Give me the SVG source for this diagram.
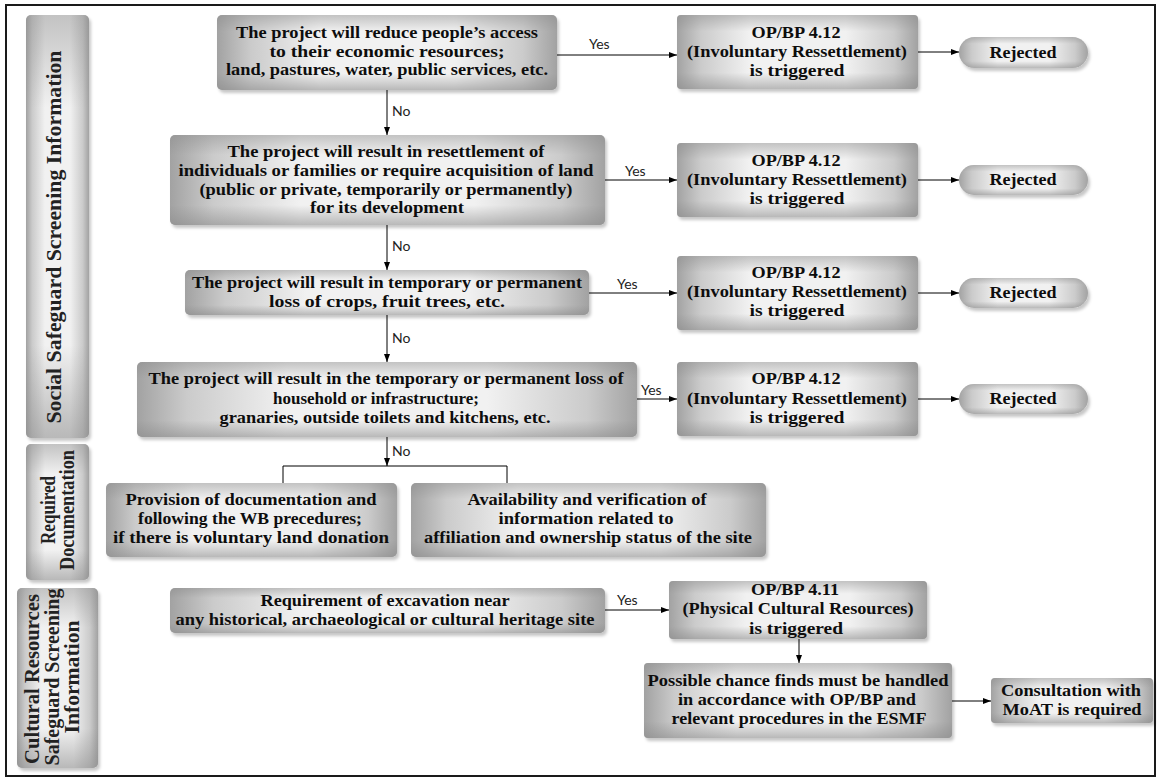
<svg xmlns="http://www.w3.org/2000/svg" width="1157" height="783" viewBox="0 0 1157 783">
<defs>
<linearGradient id="gh" x1="0" x2="1" y1="0" y2="0">
<stop offset="0" stop-color="#a2a2a2"/><stop offset="0.1" stop-color="#cbcbcb"/><stop offset="0.3" stop-color="#f1f1f1"/><stop offset="0.7" stop-color="#f1f1f1"/><stop offset="0.9" stop-color="#cbcbcb"/><stop offset="1" stop-color="#a2a2a2"/>
</linearGradient>
<linearGradient id="gv" x1="0" x2="0" y1="0" y2="1">
<stop offset="0" stop-color="#8a8a8a" stop-opacity="0.45"/><stop offset="0.22" stop-color="#8a8a8a" stop-opacity="0"/><stop offset="0.78" stop-color="#8a8a8a" stop-opacity="0"/><stop offset="1" stop-color="#8a8a8a" stop-opacity="0.55"/>
</linearGradient>
<filter id="sh" x="-10%" y="-10%" width="125%" height="140%">
<feDropShadow dx="2" dy="3" stdDeviation="1.5" flood-color="#000" flood-opacity="0.22"/>
</filter>
<marker id="ah" markerWidth="8" markerHeight="6" refX="8" refY="3" orient="auto" markerUnits="userSpaceOnUse">
<path d="M0,0 L8,3 L0,6 z" fill="#000"/>
</marker>
</defs>
<style>
.bx{fill:url(#gh);filter:url(#sh)}
.ov{fill:url(#gv)}
.t{font-family:"Liberation Serif","DejaVu Serif",serif;font-weight:bold;font-size:16px;fill:#0d0d0d;text-anchor:middle}
.v{font-family:"Liberation Serif","DejaVu Serif",serif;font-weight:bold;font-size:20px;fill:#222;text-anchor:middle}
.lbl{font-family:Lato,"Liberation Sans",sans-serif;font-size:14px;fill:#222}
.conn path{stroke:#000;stroke-width:1;fill:none}
.arr{marker-end:url(#ah)}
</style>
<rect x="6" y="5" width="1149" height="771" fill="#fff" stroke="#1a1a1a" stroke-width="2"/>

<g id="lab-social">
<rect class="bx" x="26" y="15" width="63" height="423" rx="5"/><rect class="ov" x="26" y="15" width="63" height="423" rx="5"/>
<text class="v" x="61" y="237" transform="rotate(-90 61 237)" textLength="373" lengthAdjust="spacingAndGlyphs">Social Safeguard Screening Information</text>
</g>
<g id="lab-doc">
<rect class="bx" x="26" y="444" width="63" height="136" rx="5"/><rect class="ov" x="26" y="444" width="63" height="136" rx="5"/>
<text class="v" x="55" y="510" transform="rotate(-90 55 510)" font-size="19" textLength="68" lengthAdjust="spacingAndGlyphs">Required</text>
<text class="v" x="74" y="510" transform="rotate(-90 74 510)" font-size="19" textLength="120" lengthAdjust="spacingAndGlyphs">Documentation</text>
</g>
<g id="lab-cult">
<rect class="bx" x="17" y="588" width="81" height="180" rx="5"/><rect class="ov" x="17" y="588" width="81" height="180" rx="5"/>
<text class="v" x="39" y="679" transform="rotate(-90 39 679)" textLength="170" lengthAdjust="spacingAndGlyphs">Cultural Resources</text>
<text class="v" x="59" y="677" transform="rotate(-90 59 677)" textLength="177" lengthAdjust="spacingAndGlyphs">Safeguard Screening</text>
<text class="v" x="79" y="677" transform="rotate(-90 79 677)" textLength="113" lengthAdjust="spacingAndGlyphs">Information</text>
</g>

<g id="q1">
<rect class="bx" x="217" y="15" width="340" height="75" rx="5"/><rect class="ov" x="217" y="15" width="340" height="75" rx="5"/>
<text class="t" x="387" y="38" textLength="302" lengthAdjust="spacingAndGlyphs">The project will reduce people’s access</text>
<text class="t" x="387" y="57" textLength="235" lengthAdjust="spacingAndGlyphs">to their economic resources;</text>
<text class="t" x="387" y="75" textLength="322" lengthAdjust="spacingAndGlyphs">land, pastures, water, public services, etc.</text>
</g>
<g id="q2">
<rect class="bx" x="170" y="135" width="435" height="90" rx="5"/><rect class="ov" x="170" y="135" width="435" height="90" rx="5"/>
<text class="t" x="386" y="157" textLength="317" lengthAdjust="spacingAndGlyphs">The project will result in resettlement of</text>
<text class="t" x="386" y="176" textLength="415" lengthAdjust="spacingAndGlyphs">individuals or families or require acquisition of land</text>
<text class="t" x="386" y="195" textLength="373" lengthAdjust="spacingAndGlyphs">(public or private, temporarily or permanently)</text>
<text class="t" x="387" y="213" textLength="154" lengthAdjust="spacingAndGlyphs">for its development</text>
</g>
<g id="q3">
<rect class="bx" x="185" y="270" width="404" height="45" rx="5"/><rect class="ov" x="185" y="270" width="404" height="45" rx="5"/>
<text class="t" x="387" y="288" textLength="390" lengthAdjust="spacingAndGlyphs">The project will result in temporary or permanent</text>
<text class="t" x="387" y="307" textLength="236" lengthAdjust="spacingAndGlyphs">loss of crops, fruit trees, etc.</text>
</g>
<g id="q4">
<rect class="bx" x="137" y="362" width="500" height="75" rx="5"/><rect class="ov" x="137" y="362" width="500" height="75" rx="5"/>
<text class="t" x="386" y="384" textLength="475" lengthAdjust="spacingAndGlyphs">The project will result in the temporary or permanent loss of</text>
<text class="t" x="376" y="404" textLength="206" lengthAdjust="spacingAndGlyphs">household or infrastructure;</text>
<text class="t" x="385" y="423" textLength="331" lengthAdjust="spacingAndGlyphs">granaries, outside toilets and kitchens, etc.</text>
</g>

<g id="op1">
<rect class="bx" x="677" y="15" width="241" height="74" rx="4"/><rect class="ov" x="677" y="15" width="241" height="74" rx="4"/>
<text class="t" x="796" y="38" textLength="89" lengthAdjust="spacingAndGlyphs">OP/BP 4.12</text>
<text class="t" x="797" y="57" textLength="220" lengthAdjust="spacingAndGlyphs">(Involuntary Ressettlement)</text>
<text class="t" x="797" y="76" textLength="95" lengthAdjust="spacingAndGlyphs">is triggered</text>
</g>
<g id="op2">
<rect class="bx" x="677" y="143" width="241" height="74" rx="4"/><rect class="ov" x="677" y="143" width="241" height="74" rx="4"/>
<text class="t" x="796" y="166" textLength="89" lengthAdjust="spacingAndGlyphs">OP/BP 4.12</text>
<text class="t" x="797" y="185" textLength="220" lengthAdjust="spacingAndGlyphs">(Involuntary Ressettlement)</text>
<text class="t" x="797" y="204" textLength="95" lengthAdjust="spacingAndGlyphs">is triggered</text>
</g>
<g id="op3">
<rect class="bx" x="677" y="256" width="241" height="74" rx="4"/><rect class="ov" x="677" y="256" width="241" height="74" rx="4"/>
<text class="t" x="796" y="278" textLength="89" lengthAdjust="spacingAndGlyphs">OP/BP 4.12</text>
<text class="t" x="797" y="297" textLength="220" lengthAdjust="spacingAndGlyphs">(Involuntary Ressettlement)</text>
<text class="t" x="797" y="316" textLength="95" lengthAdjust="spacingAndGlyphs">is triggered</text>
</g>
<g id="op4">
<rect class="bx" x="677" y="362" width="241" height="74" rx="4"/><rect class="ov" x="677" y="362" width="241" height="74" rx="4"/>
<text class="t" x="796" y="384" textLength="89" lengthAdjust="spacingAndGlyphs">OP/BP 4.12</text>
<text class="t" x="797" y="404" textLength="220" lengthAdjust="spacingAndGlyphs">(Involuntary Ressettlement)</text>
<text class="t" x="797" y="423" textLength="95" lengthAdjust="spacingAndGlyphs">is triggered</text>
</g>

<g id="rej1">
<rect class="bx" x="959" y="37" width="129" height="31" rx="15.5"/><rect class="ov" x="959" y="37" width="129" height="31" rx="15.5"/>
<text class="t" x="1023" y="58" textLength="67" lengthAdjust="spacingAndGlyphs">Rejected</text>
</g>
<g id="rej2">
<rect class="bx" x="959" y="165" width="129" height="30" rx="15"/><rect class="ov" x="959" y="165" width="129" height="30" rx="15"/>
<text class="t" x="1023" y="185" textLength="67" lengthAdjust="spacingAndGlyphs">Rejected</text>
</g>
<g id="rej3">
<rect class="bx" x="959" y="278" width="129" height="30" rx="15"/><rect class="ov" x="959" y="278" width="129" height="30" rx="15"/>
<text class="t" x="1023" y="298" textLength="67" lengthAdjust="spacingAndGlyphs">Rejected</text>
</g>
<g id="rej4">
<rect class="bx" x="959" y="384" width="129" height="30" rx="15"/><rect class="ov" x="959" y="384" width="129" height="30" rx="15"/>
<text class="t" x="1023" y="404" textLength="67" lengthAdjust="spacingAndGlyphs">Rejected</text>
</g>

<g id="doc1">
<rect class="bx" x="106" y="483" width="291" height="74" rx="5"/><rect class="ov" x="106" y="483" width="291" height="74" rx="5"/>
<text class="t" x="251" y="505" textLength="251" lengthAdjust="spacingAndGlyphs">Provision of documentation and</text>
<text class="t" x="250" y="524" textLength="224" lengthAdjust="spacingAndGlyphs">following the WB precedures;</text>
<text class="t" x="251" y="543" textLength="276" lengthAdjust="spacingAndGlyphs">if there is voluntary land donation</text>
</g>
<g id="doc2">
<rect class="bx" x="411" y="483" width="355" height="74" rx="5"/><rect class="ov" x="411" y="483" width="355" height="74" rx="5"/>
<text class="t" x="587" y="505" textLength="239" lengthAdjust="spacingAndGlyphs">Availability and verification of</text>
<text class="t" x="586" y="524" textLength="175" lengthAdjust="spacingAndGlyphs">information related to</text>
<text class="t" x="588" y="543" textLength="328" lengthAdjust="spacingAndGlyphs">affiliation and ownership status of the site</text>
</g>

<g id="exc">
<rect class="bx" x="170" y="588" width="435" height="45" rx="5"/><rect class="ov" x="170" y="588" width="435" height="45" rx="5"/>
<text class="t" x="385" y="606" textLength="249" lengthAdjust="spacingAndGlyphs">Requirement of excavation near</text>
<text class="t" x="385" y="625" textLength="419" lengthAdjust="spacingAndGlyphs">any historical, archaeological or cultural heritage site</text>
</g>
<g id="op411">
<rect class="bx" x="669" y="581" width="258" height="58" rx="4"/><rect class="ov" x="669" y="581" width="258" height="58" rx="4"/>
<text class="t" x="795" y="595" textLength="88" lengthAdjust="spacingAndGlyphs">OP/BP 4.11</text>
<text class="t" x="798" y="614" textLength="231" lengthAdjust="spacingAndGlyphs">(Physical Cultural Resources)</text>
<text class="t" x="796" y="634" textLength="94" lengthAdjust="spacingAndGlyphs">is triggered</text>
</g>
<g id="chance">
<rect class="bx" x="644" y="663" width="308" height="75" rx="4"/><rect class="ov" x="644" y="663" width="308" height="75" rx="4"/>
<text class="t" x="798" y="686" textLength="301" lengthAdjust="spacingAndGlyphs">Possible chance finds must be handled</text>
<text class="t" x="797" y="705" textLength="238" lengthAdjust="spacingAndGlyphs">in accordance with OP/BP and</text>
<text class="t" x="799" y="724" textLength="255" lengthAdjust="spacingAndGlyphs">relevant procedures in the ESMF</text>
</g>
<g id="moat">
<rect class="bx" x="991" y="678" width="162" height="45" rx="4"/><rect class="ov" x="991" y="678" width="162" height="45" rx="4"/>
<text class="t" x="1071" y="696" textLength="140" lengthAdjust="spacingAndGlyphs">Consultation with</text>
<text class="t" x="1072" y="715" textLength="139" lengthAdjust="spacingAndGlyphs">MoAT is required</text>
</g>

<g id="connectors" class="conn">
<path class="arr" d="M557,55 H677"/>
<path class="arr" d="M918,52 H959"/>
<path class="arr" d="M605,180 H677"/>
<path class="arr" d="M918,180 H959"/>
<path class="arr" d="M589,293 H677"/>
<path class="arr" d="M918,293 H959"/>
<path class="arr" d="M637,399 H677"/>
<path class="arr" d="M918,399 H959"/>
<path class="arr" d="M387,90 V135"/>
<path class="arr" d="M387,225 V270"/>
<path class="arr" d="M387,315 V362"/>
<path class="arr" d="M387,437 V466"/>
<path d="M283,483 V466 H507 V483"/>
<path class="arr" d="M605,610 H669"/>
<path class="arr" d="M799,639 V663"/>
<path class="arr" d="M952,701 H991"/>
<text class="lbl" x="589" y="49">Yes</text>
<text class="lbl" x="625" y="176">Yes</text>
<text class="lbl" x="617" y="289">Yes</text>
<text class="lbl" x="641" y="395">Yes</text>
<text class="lbl" x="617" y="605">Yes</text>
<text class="lbl" x="392" y="116">No</text>
<text class="lbl" x="392" y="251">No</text>
<text class="lbl" x="392" y="343">No</text>
<text class="lbl" x="392" y="456">No</text>
</g>
</svg>
